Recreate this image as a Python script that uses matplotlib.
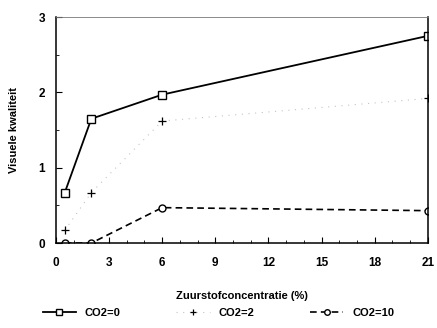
import matplotlib.pyplot as plt
from matplotlib.ticker import MultipleLocator

plt.rcParams['font.family'] = ['Liberation Sans', 'DejaVu Sans']
plt.rcParams['font.weight'] = 'bold'

oxygen = [0.5, 2, 6, 21]
co2_0 = [0.67, 1.65, 1.97, 2.75]
co2_2 = [0.17, 0.67, 1.62, 1.92]
co2_10 = [0.0, 0.0, 0.47, 0.43]
xticks = [0, 3, 6, 9, 12, 15, 18, 21]
yticks = [0, 1, 2, 3]

fig = plt.figure(figsize=(4.37, 3.28), dpi=100)
ax = fig.add_axes([0.128, 0.259, 0.851, 0.689])

ax.plot(oxygen, co2_0, color='black', lw=1.3, marker='s', ms=6,
        mfc='white', mec='black', mew=1, label='CO2=0')
ax.plot(oxygen, co2_2, color='#c4c4c4', lw=0.8, ls=(0, (1, 5)),
        marker='+', ms=6, mec='black', mew=0.9, label='CO2=2')
ax.plot(oxygen, co2_10, color='black', lw=1.2, ls=(0, (4, 2.5)),
        marker='o', ms=5, mfc='white', mec='black', mew=1, label='CO2=10')

ax.set_xlim(0, 21)
ax.set_ylim(0, 3)
ax.set_xticks(xticks)
ax.set_yticks(yticks)
ax.xaxis.set_minor_locator(MultipleLocator(1))
ax.yaxis.set_minor_locator(MultipleLocator(0.5))
ax.tick_params(which='both', direction='in', top=False, right=False,
               labelsize=8.5)
ax.tick_params(axis='x', pad=10)
ax.tick_params(axis='y', pad=8)
ax.tick_params(which='major', length=4)
ax.tick_params(which='minor', length=2)
for lab in ax.get_xticklabels() + ax.get_yticklabels():
    lab.set_fontweight('bold')

for side in ['left', 'bottom', 'right']:
    ax.spines[side].set_linewidth(1.1)
ax.spines['top'].set_linewidth(0.6)
ax.spines['top'].set_color('#777777')

ax.set_xlabel('Zuurstofconcentratie (%)', fontsize=8, fontweight='bold', labelpad=16)
ax.set_ylabel('Visuele kwaliteit', fontsize=8, fontweight='bold', labelpad=14)

fig.legend(loc='lower center', bbox_to_anchor=(0.5, 0.0), ncol=3, frameon=False,
           handlelength=3, columnspacing=5, markerscale=0.8,
           prop={'weight': 'bold', 'size': 8})

fig.savefig('out.png', dpi=100)
